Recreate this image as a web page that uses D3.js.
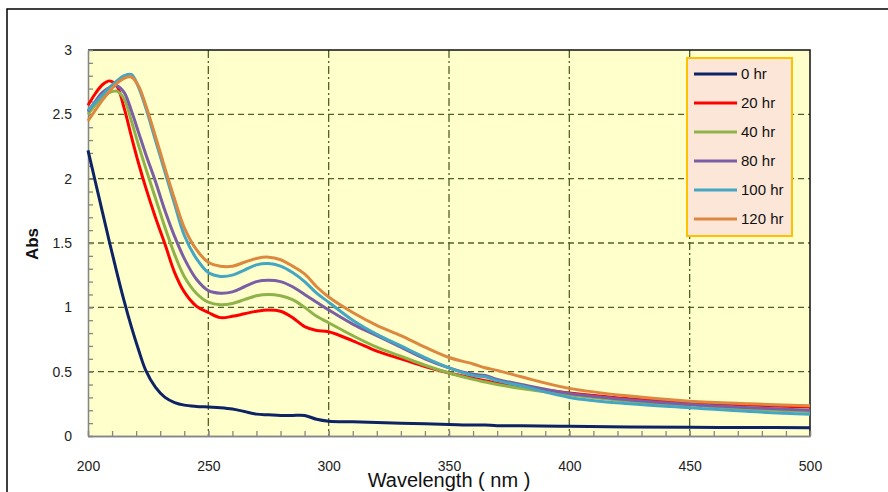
<!DOCTYPE html>
<html lang="en">
<head>
    <meta charset="UTF-8">
    <title>absorbance spectra</title>
    <script src="https://d3js.org/d3.v7.min.js"></script>
    <style>
        body{
            margin: 0;
            background: #ffffff;
        }
        .tick text{
            font-family: "Liberation Sans", Arial, sans-serif;
            font-size: 14px;
            fill: #222;
        }
        .legend text{
            font-family: "Liberation Sans", Arial, sans-serif;
            font-size: 15px;
            fill: #111;
        }
    </style>
</head>
<body>
<svg id="chart" width="888" height="492"></svg>
<script>
    // wavelengths (nm) shared by every series
    const wavelength = [200,203,206,209,212,215,218,221,224,228,232,236,240,245,250,255,260,265,270,275,
        280,285,290,295,300,310,320,330,340,350,360,365,370,380,400,425,450,475,500];

    const hr0 = [2.22,1.98,1.74,1.50,1.27,1.05,0.85,0.67,0.51,0.38,0.30,0.26,0.24,0.23,0.225,0.22,0.21,0.19,0.17,0.165,
        0.16,0.16,0.16,0.13,0.115,0.11,0.105,0.10,0.095,0.09,0.085,0.085,0.08,0.08,0.075,0.07,0.068,0.066,0.065];
    const hr20 = [2.57,2.66,2.73,2.76,2.72,2.55,2.33,2.12,1.93,1.70,1.49,1.27,1.12,1.01,0.96,0.92,0.93,0.95,0.97,0.98,
        0.97,0.92,0.85,0.82,0.81,0.74,0.66,0.60,0.54,0.49,0.45,0.43,0.41,0.38,0.335,0.29,0.26,0.24,0.225];
    const hr40 = [2.50,2.57,2.63,2.67,2.68,2.62,2.45,2.26,2.08,1.85,1.62,1.41,1.24,1.11,1.04,1.02,1.03,1.06,1.09,1.10,
        1.09,1.06,1.00,0.93,0.88,0.78,0.69,0.62,0.55,0.49,0.44,0.42,0.40,0.37,0.32,0.27,0.24,0.21,0.19];
    const hr80 = [2.52,2.60,2.67,2.71,2.72,2.67,2.53,2.36,2.19,1.98,1.75,1.55,1.38,1.22,1.13,1.11,1.12,1.16,1.20,1.21,
        1.20,1.16,1.10,1.04,0.98,0.87,0.78,0.69,0.60,0.53,0.48,0.47,0.44,0.40,0.33,0.28,0.245,0.22,0.20];
    const hr100 = [2.53,2.59,2.65,2.71,2.76,2.80,2.81,2.71,2.55,2.30,2.05,1.80,1.56,1.38,1.27,1.24,1.25,1.29,1.33,1.34,
        1.32,1.27,1.20,1.11,1.04,0.90,0.79,0.70,0.61,0.53,0.47,0.46,0.43,0.39,0.30,0.25,0.22,0.19,0.17];
    const hr120 = [2.45,2.53,2.61,2.68,2.74,2.78,2.79,2.72,2.57,2.33,2.08,1.84,1.62,1.45,1.35,1.32,1.32,1.35,1.38,1.39,
        1.37,1.32,1.26,1.16,1.08,0.96,0.86,0.78,0.69,0.61,0.56,0.53,0.51,0.46,0.37,0.31,0.27,0.25,0.235];

    const seriesNames = ["0 hr","20 hr","40 hr","80 hr","100 hr","120 hr"];
    const seriesValues = [hr0, hr20, hr40, hr80, hr100, hr120];
    const seriesColors = ["#0d2366","#ff0000","#8fb34a","#7a5ea6","#45a6c4","#dc8840"];

    const xTicks = [200,250,300,350,400,450,500];
    const yTicks = [0,0.5,1,1.5,2,2.5,3];

    const svg = d3.select("#chart");
    const plotL = 88, plotR = 810, plotT = 50, plotB = 436;

    const x = d3.scaleLinear().domain([200,500]).range([plotL,plotR]);
    const y = d3.scaleLinear().domain([0,3]).range([plotB,plotT]);

    // outer frame
    svg.append("rect")
        .attr("x",7).attr("y",9).attr("width",900).attr("height",500)
        .attr("fill","none").attr("stroke","#000").attr("stroke-width",1.5);

    // plot area
    svg.append("rect")
        .attr("x",plotL).attr("y",plotT).attr("width",plotR-plotL).attr("height",plotB-plotT)
        .attr("fill","#ffffcc");

    // grid
    svg.append("g").selectAll("line")
        .data(yTicks.filter(d => d > 0 && d < 3))
        .join("line")
        .attr("x1",plotL).attr("x2",plotR)
        .attr("y1",d => y(d)).attr("y2",d => y(d))
        .attr("stroke","#4f6228").attr("stroke-width",1.3)
        .attr("stroke-dasharray","6,4");
    svg.append("g").selectAll("line")
        .data(xTicks.filter(d => d > 200 && d < 500))
        .join("line")
        .attr("x1",d => x(d)).attr("x2",d => x(d))
        .attr("y1",plotT).attr("y2",plotB)
        .attr("stroke","#4f6228").attr("stroke-width",1.3)
        .attr("stroke-dasharray","8,3,2,3");

    // border top / right
    svg.append("path")
        .attr("d",`M${plotL},${plotT}H${plotR}V${plotB}`)
        .attr("fill","none").attr("stroke","#111").attr("stroke-width",1.5);

    // axes
    const yMinor = svg.append("g")
        .attr("transform",`translate(${plotL},0)`)
        .call(d3.axisLeft(y).tickValues(d3.range(0,3.001,0.1)).tickSize(-5).tickSizeOuter(0).tickFormat(""));
    const yAxis = svg.append("g")
        .attr("transform",`translate(${plotL},0)`)
        .call(d3.axisLeft(y).tickValues(yTicks).tickSize(-5).tickSizeOuter(0).tickPadding(16).tickFormat(d => String(d)));
    const xMinor = svg.append("g")
        .attr("transform",`translate(0,${plotB})`)
        .call(d3.axisBottom(x).tickValues(d3.range(200,501,10)).tickSize(-5).tickSizeOuter(0).tickFormat(""));
    const xAxis = svg.append("g")
        .attr("transform",`translate(0,${plotB})`)
        .call(d3.axisBottom(x).tickValues(xTicks).tickSize(-5).tickSizeOuter(0).tickPadding(25).tickFormat(d => String(d)));
    [yMinor,yAxis,xMinor,xAxis].forEach(g => {
        g.selectAll("path,line").attr("stroke","#868686").attr("stroke-width",1.3);
    });

    // curves
    const line = d3.line()
        .x((d,i) => x(wavelength[i]))
        .y(d => y(d))
        .curve(d3.curveCatmullRom.alpha(0.5));

    svg.append("g").selectAll("path")
        .data(seriesValues)
        .join("path")
        .attr("d",line)
        .attr("fill","none")
        .attr("stroke",(d,i) => seriesColors[i])
        .attr("stroke-width",3)
        .attr("stroke-linejoin","round");

    // axis titles
    svg.append("text")
        .attr("x",449).attr("y",487)
        .attr("text-anchor","middle")
        .style("font-family","'Liberation Sans', Arial, sans-serif")
        .style("font-size","20px")
        .attr("fill","#111")
        .text("Wavelength ( nm )");
    svg.append("text")
        .attr("transform","translate(38,244) rotate(-90)")
        .attr("text-anchor","middle")
        .style("font-family","'Liberation Sans', Arial, sans-serif")
        .style("font-size","17px")
        .style("font-weight","bold")
        .attr("fill","#111")
        .text("Abs");

    // legend
    const legend = svg.append("g").attr("class","legend");
    legend.append("rect")
        .attr("x",687).attr("y",58).attr("width",105).attr("height",178)
        .attr("fill","#fce6d8").attr("stroke","#ffc000").attr("stroke-width",2);
    const item = legend.selectAll("g.item")
        .data(seriesNames)
        .join("g")
        .attr("class","item")
        .attr("transform",(d,i) => `translate(0,${74 + i*29})`);
    item.append("line")
        .attr("x1",694).attr("x2",737)
        .attr("stroke",(d,i) => seriesColors[i])
        .attr("stroke-width",3);
    item.append("text")
        .attr("x",741).attr("dy","0.35em")
        .text(d => d);
</script>
</body>
</html>
